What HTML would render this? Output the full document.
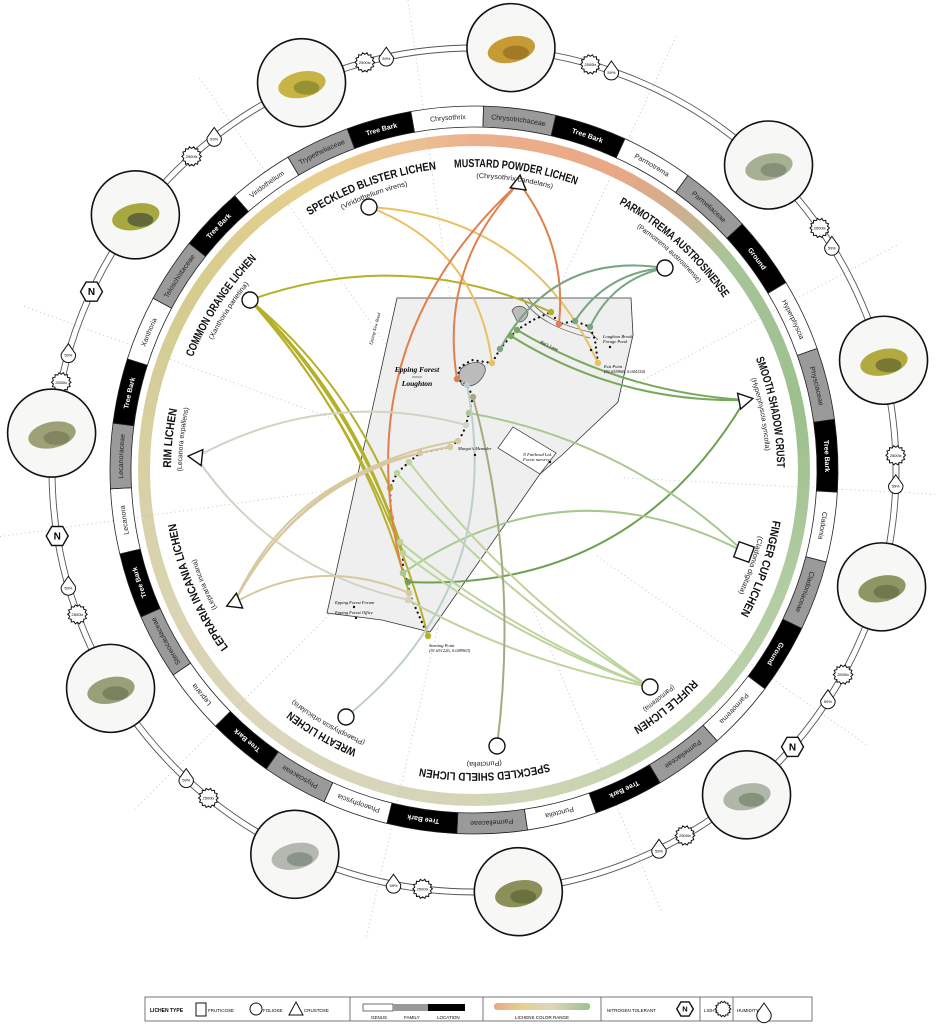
<!DOCTYPE html>
<html><head><meta charset="utf-8">
<style>
html,body{margin:0;padding:0;background:#fff;}
#wrap{position:relative;width:938px;height:1024px;overflow:hidden;background:#fff;}
#cring{position:absolute;left:138px;top:134px;width:672px;height:672px;border-radius:50%;
background:conic-gradient(from 0deg,#eab08c 0deg,#e9a886 25deg,#d0ae8e 38deg,#a8c498 50deg,#9cc08e 80deg,#b2cca2 110deg,#c4d4ae 150deg,#d4d4b8 180deg,#dcd6bc 220deg,#d8d2ac 260deg,#d4cc8e 300deg,#e6d08e 330deg,#ecc092 350deg,#eab08c 360deg);}
#cin{position:absolute;left:150px;top:146px;width:648px;height:648px;border-radius:50%;background:#fff;}
svg{position:absolute;left:0;top:0;}
</style></head><body>
<div id="wrap">
<div id="cring"></div><div id="cin"></div>
<svg id="s" width="938" height="1024" viewBox="0 0 938 1024" font-family="Liberation Sans, sans-serif"></svg>
</div>
<script>
var CX=474,CY=470;
var o='';
function P(a,r){var t=a*Math.PI/180;return [CX+r*Math.sin(t),CY-r*Math.cos(t)];}
function arc(a1,a2,r){var p=P(a1,r),q=P(a2,r);return 'M'+p[0].toFixed(2)+','+p[1].toFixed(2)+' A'+r+','+r+' 0 '+((a2-a1)>180?1:0)+' 1 '+q[0].toFixed(2)+','+q[1].toFixed(2);}
[-8,25,62,93,125,157,193,225,262,290,325].forEach(function(a){var p=P(a,150),q=P(a,480);o+='<line x1="'+p[0]+'" y1="'+p[1]+'" x2="'+q[0]+'" y2="'+q[1]+'" stroke="#bbb" stroke-width="0.7" stroke-dasharray="1.2 3"/>';});
o+='<circle cx="'+CX+'" cy="'+CY+'" r="419" fill="none" stroke="#555" stroke-width="0.9"/>';
o+='<circle cx="'+CX+'" cy="'+CY+'" r="425" fill="none" stroke="#555" stroke-width="0.9"/>';
var names=[['Chrysothrix','Chrysotrichaceae','Tree Bark'],['Parmotrema','Parmeliaceae','Ground'],['Hyperphyscia','Physciaceae','Tree Bark'],['Cladonia','Cladoniaceae','Ground'],['Parmotrema','Parmeliaceae','Tree Bark'],['Punctelia','Parmeliaceae','Tree Bark'],['Phaeophyscia','Physciaceae','Tree Bark'],['Lepraria','Stereocaulaceae','Tree Bark'],['Lecanora','Lecanoraceae','Tree Bark'],['Xanthoria','Teloschistaceae','Tree Bark'],['Viridothelium','Trypetheliaceae','Tree Bark']];
var segs=[];names.forEach(function(t){segs.push(t[0],t[1],t[2]);});
var b=[];var a=-10;
for(var i=0;i<33;i++){b.push(a);var w=i<9?11.5:(i<18?11.15:(i<24?10.47:10.37));a+=w;}
b.push(350);
var defs='';
for(var i=0;i<33;i++){
 var a1=b[i],a2=b[i+1],k=i%3;
 var fill=k==0?'#fff':(k==1?'#9a9a9a':'#000');var tc=k==2?'#fff':'#222';
 var po=P(a1,364),p2=P(a2,364),pi2=P(a2,343),pi1=P(a1,343);
 o+='<path d="M'+po+' A364,364 0 0 1 '+p2+' L'+pi2+' A343,343 0 0 0 '+pi1+' Z" fill="'+fill+'" stroke="#222" stroke-width="0.8"/>';
 var mid=(a1+a2)/2;var id='sg'+i;
 defs+='<path id="'+id+'" d="'+arc(mid-20,mid+20,351)+'"/>';
 o+='<text font-size="7" fill="'+tc+'" font-weight="'+(k==2?'bold':'normal')+'" text-anchor="middle"><textPath href="#'+id+'" startOffset="50%">'+segs[i]+'</textPath></text>';
}
o+='<polygon points="397,298 631,298 633,335 618,402 562,455 540,474 430,632 382,620 327,613" fill="#efefef" stroke="#333" stroke-width="0.8"/>';
o+='<polygon points="498,448 513,427 556,453 540,474" fill="#fff" stroke="#333" stroke-width="0.7"/>';
o+='<path d="M528,298 C540,315 560,325 590,332 L598,340" fill="none" stroke="#555" stroke-width="0.7"/><path d="M522,298 C536,320 560,330 590,338" fill="none" stroke="#555" stroke-width="0.7"/>';
o+='<path d="M462,368 C470,360 488,360 485,372 C480,385 470,388 462,385 C458,378 458,372 462,368Z" fill="#bbb" stroke="#444" stroke-width="0.7"/>';
o+='<path d="M512,311 C515,304 525,305 528,312 C528,318 522,324 517,321 Z" fill="#bbb" stroke="#444" stroke-width="0.7"/>';
var rt=[[428,636],[409,593],[408,582],[403,573],[403,553],[400,542],[395,530],[391,518],[390,488],[397,473],[409,462],[420,453],[450,447],[458,441],[463,433],[466,425],[469,413],[473,397],[467,385],[457,379],[460,367],[472,360],[492,363],[500,349],[511,336],[517,330],[533,320],[551,312],[559,324],[575,321],[590,327],[595,340],[598,363]];
o+='<polyline points="'+rt.map(function(p){return p.join(',')}).join(' ')+'" fill="none" stroke="#111" stroke-width="2.2" stroke-dasharray="0.1 5" stroke-linecap="round"/>';
function cv(m,e,col,bend,w){var mx=(m[0]+e[0])/2,my=(m[1]+e[1])/2,dx=e[0]-m[0],dy=e[1]-m[1];var cx=mx-dy*bend,cy=my+dx*bend;
 o+='<path d="M'+m[0]+','+m[1]+' Q'+cx.toFixed(1)+','+cy.toFixed(1)+' '+e[0]+','+e[1]+'" fill="none" stroke="'+col+'" stroke-width="'+(w||2)+'"/>';
 o+='<circle cx="'+e[0]+'" cy="'+e[1]+'" r="3.2" fill="'+col+'"/>';}
var CO=[250,300],SB=[369,207],MU=[519,183],PA=[665,268],SS=[745,400],FC=[744,552],RU=[650,687],SH=[497,746],WR=[346,717],LE=[234,603],RI=[196,457];
var ol='#b5b02c';
cv(CO,[551,312],ol,-0.2);[[390,488],[391,518],[400,542],[403,553],[409,593],[428,636]].forEach(function(e){cv(CO,e,ol,-0.12);});
cv(SB,[492,363],'#e9c064',-0.3);cv(SB,[598,363],'#e9c064',-0.3);
cv(MU,[457,379],'#e0804e',0.25);cv(MU,[559,324],'#e0804e',-0.2);cv(MU,[403,573],'#e0804e',0.3);
cv(PA,[500,349],'#7aa585',0.35);cv(PA,[575,321],'#7aa585',0.25);cv(PA,[590,327],'#7aa585',0.25);
cv(SS,[511,336],'#78a85a',-0.15);cv(SS,[517,330],'#78a85a',-0.12);cv(SS,[408,582],'#6fa050',-0.3);
cv(FC,[469,413],'#a8c890',0.15);cv(FC,[403,573],'#a8c890',0.3);
[[409,462],[397,473],[400,542],[403,553],[408,600]].forEach(function(e){cv(RU,e,'#bcd49c',-0.08);});
cv(SH,[473,397],'#a8a882',0.1);cv(WR,[467,385],'#bccfcc',0.3);
cv(RI,[466,425],'#d4d2c4',-0.2);cv(RI,[409,600],'#d4d2c4',0.2);
[[458,441],[450,447],[420,453],[409,593]].forEach(function(e){cv(LE,e,'#d8c8a0',-0.25);});
o+='<text x="417" y="372" font-family="Liberation Serif,serif" font-style="italic" font-weight="bold" font-size="7.5" text-anchor="middle">Epping Forest</text><line x1="412" y1="377" x2="422" y2="377" stroke="#333" stroke-width="0.6"/><text x="417" y="386" font-family="Liberation Serif,serif" font-style="italic" font-weight="bold" font-size="7.5" text-anchor="middle">Loughton</text>';
var sm=function(x,y,t,r){o+='<text x="'+x+'" y="'+y+'" font-family="Liberation Serif,serif" font-style="italic" font-size="4.5"'+(r?' transform="rotate('+r+' '+x+' '+y+')"':'')+'>'+t+'</text>';};
sm(429,647,'Starting Point');sm(429,652,'(51.651226, 0.049963)');sm(604,368,'Exit Point');sm(604,373,'(51.655966, 0.044154)');sm(603,338,'Loughton Brook');sm(603,343,'Forage Pond');sm(458,450,'Margot\'s Meander');sm(523,456,'N Fairhead Ltd.');sm(523,461,'Forest nursery');sm(335,604,'Epping Forest Forum');sm(335,614,'Epping Forest Office');sm(372,345,'Epping New Road',-75);sm(540,343,'Rat\'s Lane',25);
[[550,462],[610,347],[475,455],[354,607],[356,618],[591,350]].forEach(function(p){o+='<circle cx="'+p[0]+'" cy="'+p[1]+'" r="1.2" fill="#111"/>';});
function circ(p){o+='<circle cx="'+p[0]+'" cy="'+p[1]+'" r="8" fill="#fff" stroke="#111" stroke-width="1.4"/>';}
function tri(p,rot){o+='<polygon points="0,-8 8,6 -8,6" transform="translate('+p[0]+','+p[1]+') rotate('+rot+')" fill="#fff" stroke="#111" stroke-width="1.4"/>';}
circ(CO);circ(SB);circ(PA);circ(RU);circ(SH);circ(WR);
tri(MU,8);tri(SS,79);tri(LE,247);tri(RI,276);
o+='<rect x="-8" y="-8" width="16" height="16" transform="translate('+FC[0]+','+FC[1]+') rotate(20)" fill="#fff" stroke="#111" stroke-width="1.4"/>';
var labs=[['MUSTARD POWDER LICHEN','(Chrysothrix candelaris)',8],['SPECKLED BLISTER LICHEN','(Viridothelium virens)',-20],['PARMOTREMA AUSTROSINENSE','(Parmotrema austrosinense)',42],['SMOOTH SHADOW CRUST','(Hyperphyscia syncolla)',79],['FINGER CUP LICHEN','(Cladonia digitata)',109],['RUFFLE LICHEN','(Parmotrema)',141],['SPECKLED SHIELD LICHEN','(Punctelia)',178],['WREATH LICHEN','(Phaeophyscia orbicularis)',210],['LEPRARIA INCANIA LICHEN','(Lepraria incana)',247],['RIM LICHEN','(Lecanora expallens)',276],['COMMON ORANGE LICHEN','(Xanthoria parietina)',303]];
labs.forEach(function(l,i){
 defs+='<path id="ln'+i+'" d="'+arc(l[2]-60,l[2]+60,303)+'"/><path id="ls'+i+'" d="'+arc(l[2]-60,l[2]+60,292)+'"/>';
 o+='<text font-size="11.5" font-weight="bold" fill="#111" text-anchor="middle"><textPath href="#ln'+i+'" startOffset="50%" textLength="'+(l[0].length*5.9).toFixed(0)+'" lengthAdjust="spacingAndGlyphs">'+l[0]+'</textPath></text>';
 o+='<text font-size="7" fill="#222" text-anchor="middle"><textPath href="#ls'+i+'" startOffset="50%" textLength="'+(l[1].length*3.2).toFixed(0)+'" lengthAdjust="spacingAndGlyphs">'+l[1]+'</textPath></text>';
});
function star(p,t,s){s=s||1;var pts=[];for(var j=0;j<28;j++){var r=(j%2?8:9.8)*s,an=j*Math.PI/14;pts.push((p[0]+r*Math.cos(an)).toFixed(1)+','+(p[1]+r*Math.sin(an)).toFixed(1));}
 o+='<polygon points="'+pts.join(' ')+'" fill="#fff" stroke="#111" stroke-width="1"/><text x="'+p[0]+'" y="'+(p[1]+1.5)+'" font-size="4" text-anchor="middle">'+t+'</text>';}
function drop(p,t,s){s=s||1;o+='<path d="M'+p[0]+','+(p[1]-10*s)+' L'+(p[0]+7*s)+','+(p[1])+' A7.2,7.2 0 1 1 '+(p[0]-7*s)+','+(p[1])+' Z" fill="#fff" stroke="#111" stroke-width="1"/><text x="'+p[0]+'" y="'+(p[1]+3)+'" font-size="4" text-anchor="middle">'+t+'</text>';}
function hexN(p,s){s=s||1;var pts=[];for(var j=0;j<6;j++){var an=j*Math.PI/3;pts.push((p[0]+11*s*Math.cos(an)).toFixed(1)+','+(p[1]+11*s*Math.sin(an)).toFixed(1));}
 o+='<polygon points="'+pts.join(' ')+'" fill="#fff" stroke="#111" stroke-width="1.4"/><text x="'+p[0]+'" y="'+(p[1]+3.5*s)+'" font-size="'+(10*s)+'" font-weight="bold" text-anchor="middle">N</text>';}
var imgs=[[-24,'#c8b444','#8a8a30'],[5,'#c69a34','#9a7020'],[44,'#a8b094','#7a8a70'],[75,'#b0aa40','#6a6a30'],[106,'#8e9664','#6a7048'],[140,'#b0b6aa','#7a8a70'],[174,'#8a9058','#606a3a'],[205,'#b4b8b0','#808a80'],[239,'#98a07a','#707a58'],[275,'#9ea078','#7a8058'],[307,'#a8a840','#505838']];
var icons=[-15,-12,16,19,55,58,88,92,119,123,150,154,187,191,219,223,250,254,282,286,318,322];
for(var j=0;j<icons.length;j+=2){star(P(icons[j],422),'2500lx');drop(P(icons[j+1],422),'59%');}
hexN(P(261,422));hexN(P(295,422));hexN(P(131,422));
imgs.forEach(function(m){var p=P(m[0],424);
 o+='<circle cx="'+p[0]+'" cy="'+p[1]+'" r="44" fill="#f7f7f5" stroke="#111" stroke-width="1.6"/>';
 o+='<ellipse cx="'+p[0]+'" cy="'+(p[1]+2)+'" rx="24" ry="13" fill="'+m[1]+'" transform="rotate(-12 '+p[0]+' '+p[1]+')"/>';
 o+='<ellipse cx="'+(p[0]+5)+'" cy="'+(p[1]+5)+'" rx="13" ry="7" fill="'+m[2]+'" opacity="0.8"/>';});
o+='<rect x="145" y="997" width="667" height="24" fill="#fff" stroke="#555" stroke-width="0.8"/>';
[350,483,601,700,733].forEach(function(x){o+='<line x1="'+x+'" y1="997" x2="'+x+'" y2="1021" stroke="#555" stroke-width="0.8"/>';});
o+='<text x="150" y="1012" font-size="5" font-weight="bold">LICHEN TYPE</text><rect x="196" y="1003" width="10" height="13" fill="#fff" stroke="#111"/><text x="208" y="1012" font-size="4.5">FRUTICOSE</text>';
o+='<circle cx="256" cy="1009" r="6" fill="#fff" stroke="#111"/><text x="263" y="1012" font-size="4.5">FOLIOSE</text><polygon points="296,1002 303,1015 289,1015" fill="#fff" stroke="#111"/><text x="304" y="1012" font-size="4.5">CRUSTOSE</text>';
o+='<rect x="363" y="1004" width="30" height="7" fill="#fff" stroke="#111" stroke-width="0.6"/><rect x="393" y="1004" width="35" height="7" fill="#999"/><rect x="428" y="1004" width="37" height="7" fill="#000"/>';
o+='<text x="371" y="1019" font-size="4.5">GENUS</text><text x="404" y="1019" font-size="4.5">FAMILY</text><text x="437" y="1019" font-size="4.5">LOCATION</text>';
o+='<defs><linearGradient id="lg"><stop offset="0" stop-color="#e8a886"/><stop offset="0.3" stop-color="#e6d08e"/><stop offset="0.6" stop-color="#dcd6bc"/><stop offset="1" stop-color="#9cc08e"/></linearGradient></defs><rect x="494" y="1003" width="96" height="7" rx="3" fill="url(#lg)"/><text x="542" y="1019" font-size="4.5" text-anchor="middle">LICHENS COLOR RANGE</text>';
o+='<text x="607" y="1012" font-size="4.5">NITROGEN TOLERANT</text>';hexN([685,1009],0.75);
o+='<text x="704" y="1012" font-size="4.5">LIGHT</text>';star([723,1009],'',0.8);o+='<text x="737" y="1012" font-size="4.5">HUMIDITY</text>';drop([764,1011],'',0.8);
document.getElementById('s').innerHTML='<defs>'+defs+'</defs>'+o;
</script>
</body></html>
